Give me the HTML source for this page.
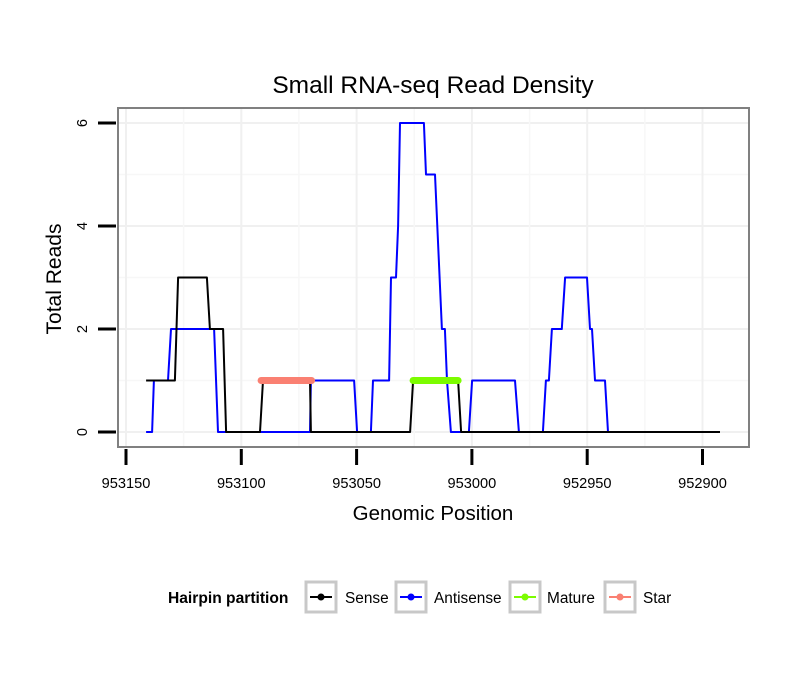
<!DOCTYPE html>
<html><head><meta charset="utf-8"><style>
body{margin:0;background:#fff;font-family:"Liberation Sans",sans-serif}
svg text{font-family:"Liberation Sans",sans-serif}
</style></head><body>
<svg id="c" width="810" height="690" xmlns="http://www.w3.org/2000/svg">
<rect width="810" height="690" fill="#fff"/>
<text x="433" y="93" font-size="24.5" text-anchor="middle">Small RNA-seq Read Density</text>
<g id="grid"></g>
<g id="series"></g>
<rect x="118" y="108" width="631" height="339" fill="none" stroke="#808080" stroke-width="2"/>
<g id="axes"></g>
<text x="433" y="520" font-size="20.5" text-anchor="middle">Genomic Position</text>
<text transform="translate(61,279) rotate(-90)" font-size="21" text-anchor="middle">Total Reads</text>
<g>
<text x="168" y="603" font-size="15.6" font-weight="bold">Hairpin partition</text>
<g><rect x="306" y="582" width="30" height="30" fill="#fff" stroke="#c8c8c8" stroke-width="3"/><line x1="310" y1="597" x2="332" y2="597" stroke="#000" stroke-width="2"/><circle cx="321" cy="597" r="3.5" fill="#000"/><text x="345" y="603" font-size="15.4">Sense</text></g>
<g><rect x="396" y="582" width="30" height="30" fill="#fff" stroke="#c8c8c8" stroke-width="3"/><line x1="400" y1="597" x2="422" y2="597" stroke="#0000ff" stroke-width="2"/><circle cx="411" cy="597" r="3.5" fill="#0000ff"/><text x="434" y="603" font-size="15.4">Antisense</text></g>
<g><rect x="510" y="582" width="30" height="30" fill="#fff" stroke="#c8c8c8" stroke-width="3"/><line x1="514" y1="597" x2="536" y2="597" stroke="#7cfc00" stroke-width="2"/><circle cx="525" cy="597" r="3.5" fill="#7cfc00"/><text x="547" y="603" font-size="15.4">Mature</text></g>
<g><rect x="605" y="582" width="30" height="30" fill="#fff" stroke="#c8c8c8" stroke-width="3"/><line x1="609" y1="597" x2="631" y2="597" stroke="#fa8072" stroke-width="2"/><circle cx="620" cy="597" r="3.5" fill="#fa8072"/><text x="643" y="603" font-size="15.4">Star</text></g>
</g>
</svg>
<script>
const xTicks=[953150,953100,953050,953000,952950,952900];
const yTicks=[0,2,4,6];
const sensePos=[953141.3,953128.8,953127.4,953114.9,953113.6,953107.9,953106.6,953091.9,953090.6,953070.2,953069.8,953026.8,953025.5,953006.0,953004.7,952892.4];
const senseVal=[1,1,3,3,2,2,0,0,1,1,0,0,1,1,0,0];
const antiPos=[953141.3,953138.7,953137.9,953131.8,953130.5,953111.8,953110.1,953070.2,953069.8,953051.1,953049.8,953043.8,953042.9,953035.9,953035.1,953032.9,953032.0,953031.2,953020.8,953019.9,953016.0,953013.0,953011.7,953010.8,953009.1,953005.6,953001.3,952999.9,952981.3,952979.6,952969.2,952967.9,952966.6,952965.3,952961.0,952959.6,952950.1,952948.8,952947.9,952946.6,952942.3,952941.0,952892.4];
const antiVal=[0,0,1,1,2,2,0,0,1,1,0,0,1,1,3,3,4,6,6,5,5,2,2,1,0,0,0,1,1,0,0,1,1,2,2,3,3,2,2,1,1,0,0];
const maturePos=[953025.5,953006.0];
const matureVal=[1,1];
const starPos=[953091.4,953069.5];
const starVal=[1,1];
const NS='http://www.w3.org/2000/svg';
const xs=p=>126+(953150-p)*115.3/50;
const ys=v=>432-v*51.5;
function mk(parent,tag,attrs){const e=document.createElementNS(NS,tag);for(const k in attrs)e.setAttribute(k,attrs[k]);document.getElementById(parent).appendChild(e);return e;}
for(let v=0;v<=7;v+=1){const y=ys(v);if(y<109||y>446)continue;
 const g=mk('grid','line',{x1:119,x2:748,y1:y,y2:y,stroke:v%2===0?'#f0f0f0':'#f7f7f7','stroke-width':v%2===0?2:1.5});
 
 }
for(let p=953150;p>=952875;p-=25){const x=xs(p);if(x<119||x>748)continue;
 const g=mk('grid','line',{x1:x,x2:x,y1:109,y2:446,stroke:p%50===0?'#f0f0f0':'#f7f7f7','stroke-width':p%50===0?2:1.5});
 
 }
xTicks.forEach(t=>{const x=xs(t);
 const l=mk('axes','line',{x1:x,x2:x,y1:449,y2:465,stroke:'#000','stroke-width':3});
 
 
 const tx=mk('axes','text',{x:x,y:488,'font-size':14.6,'text-anchor':'middle'});tx.textContent=t;
 
 });
yTicks.forEach(t=>{const y=ys(t);
 const l=mk('axes','line',{x1:98,x2:116,y1:y,y2:y,stroke:'#000','stroke-width':3});
 
 
 const tx=mk('axes','text',{transform:`translate(87,${y}) rotate(-90)`,'font-size':14.6,'text-anchor':'middle'});tx.textContent=t;
 
 });
function line(pos,val,color,w,name){const d=pos.map((p,i)=>(i?'L':'M')+xs(p).toFixed(1)+','+ys(val[i]).toFixed(1)).join('');
 const e=mk('series','path',{d:d,fill:'none',stroke:color,'stroke-width':w,'stroke-linecap':w>3?'round':'butt','stroke-linejoin':'round'});
 
 }
line(antiPos,antiVal,'#0000ff',2,'antisense-line');
line(sensePos,senseVal,'#000',2,'sense-line');
line(maturePos,matureVal,'#7cfc00',7,'mature-segment');
line(starPos,starVal,'#fa8072',7,'star-segment');
</script>
</body></html>
